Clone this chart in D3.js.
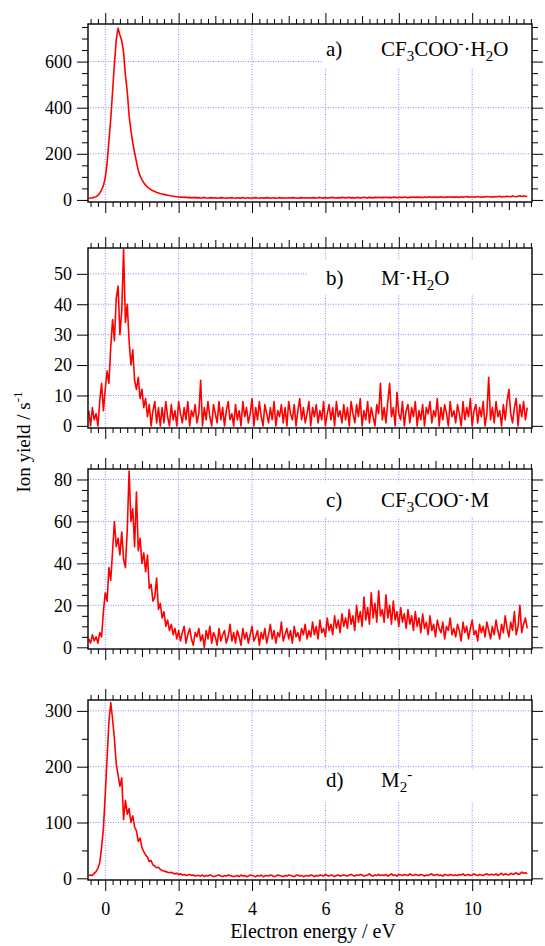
<!DOCTYPE html>
<html>
<head>
<meta charset="utf-8">
<script src="https://cdn.jsdelivr.net/npm/d3@7"></script>
<style>
  body { margin: 0; background: #fff; }
  svg { display: block; }
</style>
</head>
<body>
<svg id="chart"></svg>
<script>
// spectra sampled every 0.05 eV starting at -0.45 eV, one row = 1 eV
const energyStart = -0.45;
const energyStep = 0.05;

const yieldA = [
  6, 8, 9, 12, 14, 19, 30, 44, 62, 95, 160, 255, 350, 470, 590, 695, 745, 715, 690, 640,
  540, 470, 365, 300, 248, 205, 165, 128, 104, 88, 74, 64, 56, 49, 44, 40, 37, 32, 30, 27,
  26, 24, 22, 20, 19, 17, 16, 15, 14, 13, 12, 13, 11, 12, 10, 11, 9, 10, 11, 9,
  10, 8, 9, 11, 8, 7, 9, 10, 8, 9, 7, 8, 10, 9, 8, 7, 9, 8, 10, 8,
  7, 9, 8, 8, 10, 7, 8, 9, 7, 8, 9, 10, 8, 7, 9, 8, 8, 10, 9, 7,
  8, 9, 7, 8, 10, 8, 9, 7, 8, 9, 8, 10, 9, 8, 7, 9, 10, 8, 9, 8,
  9, 8, 10, 9, 8, 9, 11, 8, 9, 10, 8, 9, 10, 11, 9, 8, 10, 9, 11, 10,
  9, 10, 11, 9, 10, 8, 11, 10, 9, 10, 12, 10, 9, 11, 10, 9, 11, 10, 12, 10,
  11, 10, 12, 10, 11, 9, 12, 11, 10, 12, 11, 10, 13, 11, 10, 12, 11, 13, 11, 12,
  11, 12, 10, 13, 11, 12, 14, 11, 12, 13, 11, 12, 14, 12, 11, 13, 12, 14, 12, 13,
  12, 13, 11, 14, 12, 13, 15, 12, 13, 14, 12, 13, 15, 13, 12, 14, 13, 15, 14, 13,
  14, 13, 15, 14, 16, 13, 15, 14, 16, 15, 14, 17, 15, 14, 16, 18, 15, 17, 16, 15
];

const yieldB = [
  5, 0, 6, 2, 4, 0, 8, 14, 5, 12, 18, 14, 26, 35, 28, 42, 46, 30, 38, 58,
  34, 40, 28, 20, 25, 15, 12, 16, 9, 12, 6, 9, 3, 7, 0, 5, 8, 1, 6, 0,
  6, 1, 8, 3, 0, 7, 2, 5, 0, 8, 4, 1, 6, 2, 8, 0, 5, 3, 7, 1,
  4, 15, 0, 6, 2, 8, 3, 0, 7, 4, 1, 8, 2, 6, 0, 5, 8, 2, 4, 0,
  7, 2, 5, 0, 8, 3, 6, 1, 4, 9, 0, 6, 2, 8, 3, 0, 7, 4, 1, 6,
  2, 8, 0, 5, 3, 7, 1, 6, 0, 8, 4, 2, 7, 0, 5, 9, 2, 6, 1, 4,
  8, 0, 6, 3, 7, 1, 5, 2, 8, 0, 4, 7, 2, 6, 0, 8, 3, 5, 1, 7,
  2, 6, 0, 8, 4, 1, 7, 3, 9, 0, 5, 2, 8, 1, 6, 3, 0, 7, 4, 14,
  2, 6, 1, 8, 14, 3, 6, 0, 11, 4, 2, 8, 0, 5, 7, 1, 6, 3, 8, 0,
  5, 2, 7, 0, 6, 4, 8, 1, 5, 3, 9, 0, 6, 2, 7, 4, 0, 8, 3, 5,
  1, 7, 4, 0, 8, 2, 6, 3, 9, 0, 5, 7, 1, 6, 3, 8, 0, 4, 16, 2,
  6, 1, 8, 3, 5, 0, 7, 2, 8, 12, 4, 1, 6, 9, 0, 7, 3, 8, 2, 6
];

const yieldC = [
  4, 2, 6, 3, 5, 2, 7, 5, 17, 26, 22, 38, 32, 46, 60, 48, 52, 44, 55, 42,
  38, 56, 84, 60, 66, 48, 74, 46, 52, 40, 45, 36, 44, 28, 30, 22, 24, 33, 18, 21,
  14, 17, 10, 13, 8, 11, 6, 9, 4, 8, 3, 7, 10, 2, 6, 9, 4, 1, 7, 5,
  9, 3, 6, 0, 8, 4, 10, 2, 7, 5, 1, 9, 3, 6, 8, 2, 5, 11, 3, 7,
  2, 8, 5, 1, 9, 4, 7, 2, 6, 10, 3, 5, 8, 1, 7, 4, 9, 2, 6, 11,
  4, 8, 2, 7, 5, 12, 3, 6, 9, 4, 8, 2, 10, 5, 7, 3, 9, 6, 11, 4,
  8, 5, 12, 6, 10, 4, 13, 7, 9, 5, 14, 8, 11, 6, 15, 9, 13, 7, 16, 10,
  14, 9, 18, 11, 15, 8, 20, 12, 17, 10, 24, 13, 19, 11, 26, 14, 21, 12, 27, 15,
  18, 12, 25, 14, 20, 11, 22, 13, 17, 10, 19, 12, 16, 9, 18, 11, 15, 8, 17, 10,
  14, 7, 16, 9, 12, 6, 15, 8, 11, 5, 13, 9, 7, 12, 4, 10, 8, 14, 6, 9,
  5, 11, 8, 3, 12, 7, 10, 4, 9, 13, 6, 8, 3, 11, 7, 10, 5, 12, 8, 4,
  10, 6, 13, 8, 4, 11, 7, 15, 9, 5, 12, 8, 17, 6, 10, 20, 7, 11, 14, 9
];

const yieldD = [
  5, 6, 5, 9, 12, 18, 28, 55, 90, 150, 215, 280, 315, 285, 250, 205, 185, 165, 180, 105,
  140, 115, 125, 100, 112, 92, 85, 66, 72, 55, 48, 42, 38, 30, 32, 24, 22, 19, 20, 16,
  14, 13, 12, 11, 10, 11, 9, 8, 9, 7, 8, 6, 7, 5, 6, 7, 5, 6, 4, 5,
  5, 4, 6, 3, 5, 4, 6, 5, 3, 4, 5, 6, 4, 3, 5, 4, 6, 5, 4, 3,
  4, 5, 3, 6, 4, 5, 3, 4, 6, 5, 4, 3, 5, 4, 6, 3, 4, 5, 4, 6,
  5, 3, 4, 6, 5, 4, 3, 5, 4, 6, 5, 4, 3, 5, 6, 4, 5, 3, 4, 5,
  4, 6, 5, 3, 5, 4, 6, 5, 4, 7, 5, 4, 6, 5, 3, 5, 6, 4, 5, 6,
  5, 4, 6, 7, 5, 4, 6, 5, 7, 6, 4, 5, 6, 8, 5, 4, 6, 5, 7, 5,
  6, 5, 7, 4, 6, 8, 5, 6, 4, 7, 6, 5, 7, 6, 5, 8, 6, 5, 7, 6,
  5, 7, 6, 4, 6, 5, 7, 8, 5, 6, 7, 5, 6, 4, 7, 6, 5, 7, 6, 5,
  6, 5, 7, 6, 8, 5, 6, 7, 5, 6, 8, 6, 5, 7, 6, 5, 7, 8, 6, 7,
  7, 6, 8, 5, 7, 9, 6, 8, 7, 6, 9, 7, 8, 10, 7, 8, 11, 9, 10, 8
];

const xMajorTicks = [0, 2, 4, 6, 8, 10];
const xMidTicks = [1, 3, 5, 7, 9, 11];
const yTicksA = [0, 200, 400, 600];
const yTicksB = [0, 10, 20, 30, 40, 50];
const yTicksC = [0, 20, 40, 60, 80];
const yTicksD = [0, 100, 200, 300];

// label pieces: [text, kind]
const speciesA = [["CF"], ["3", "sub"], ["COO"], ["-", "sup"], ["\u00B7H"], ["2", "sub"], ["O"]];
const speciesB = [["M"], ["-", "sup"], ["\u00B7H"], ["2", "sub"], ["O"]];
const speciesC = [["CF"], ["3", "sub"], ["COO"], ["-", "sup"], ["\u00B7M"]];
const speciesD = [["M"], ["2", "sub"], ["-", "sup"]];

const xTitle = "Electron energy / eV";
const yTitle = "Ion yield / s";

const W = 545, H = 946;
const left = 88, right = 532;
const font = "'Liberation Serif', 'Times New Roman', serif";

const panels = [
  { values: yieldA, top: 24, bottom: 202, yDomain: [-9, 763], major: yTicksA, minorStep: 50,
    tag: "a)", species: speciesA, labelY: 56, box: [323, 26, 207, 43] },
  { values: yieldB, top: 248, bottom: 428, yDomain: [-0.7, 58.5], major: yTicksB, minorStep: 0,
    tag: "b)", species: speciesB, labelY: 285, box: [307, 260, 223, 35] },
  { values: yieldC, top: 469, bottom: 649, yDomain: [-0.8, 85], major: yTicksC, minorStep: 5,
    tag: "c)", species: speciesC, labelY: 507, box: [307, 482, 223, 35] },
  { values: yieldD, top: 700, bottom: 880, yDomain: [-3, 319.5], major: yTicksD, minorStep: 50,
    tag: "d)", species: speciesD, labelY: 787, box: [307, 770, 223, 32] }
];

const svg = d3.select("#chart").attr("width", W).attr("height", H)
  .style("font-family", font);

const x = d3.scaleLinear().domain([-0.47, 11.63]).range([left, right]);
const xMinor = d3.range(-0.4, 11.61, 0.2).map(v => +v.toFixed(2));

function styleAxis(g, size) {
  g.select(".domain").remove();
  g.selectAll("line").attr("stroke", "#000").attr("stroke-width", 1);
  g.selectAll("text").attr("font-family", font).attr("font-size", size).attr("fill", "#000");
}

panels.forEach((p, i) => {
  const y = d3.scaleLinear().domain(p.yDomain).range([p.bottom, p.top]);
  const g = svg.append("g");

  const clipId = "clip" + i;
  svg.append("clipPath").attr("id", clipId).append("rect")
    .attr("x", left).attr("y", p.top).attr("width", right - left).attr("height", p.bottom - p.top);

  // grid
  g.append("g").selectAll("line").data(xMajorTicks).join("line")
    .attr("x1", d => x(d)).attr("x2", d => x(d))
    .attr("y1", p.top).attr("y2", p.bottom)
    .attr("stroke", "#8a8aff").attr("stroke-width", 1).attr("stroke-dasharray", "1,1.5");
  g.append("g").selectAll("line").data(p.major.filter(d => d > 0)).join("line")
    .attr("x1", left).attr("x2", right)
    .attr("y1", d => y(d)).attr("y2", d => y(d))
    .attr("stroke", "#8a8aff").attr("stroke-width", 1).attr("stroke-dasharray", "1,1.5");

  // label background + text
  g.append("rect").attr("x", p.box[0]).attr("y", p.box[1])
    .attr("width", p.box[2]).attr("height", p.box[3]).attr("fill", "#fff");
  g.append("text").attr("x", 326).attr("y", p.labelY).attr("font-size", 21).text(p.tag);
  const lab = g.append("text").attr("x", 381).attr("y", p.labelY).attr("font-size", 21);
  let shift = 0;
  p.species.forEach(([t, kind]) => {
    let target = 0, size = null;
    if (kind === "sub") { target = 5; size = 15; }
    if (kind === "sup") { target = -8; size = 15; }
    const ts = lab.append("tspan").attr("dy", target - shift).text(t);
    if (size) ts.attr("font-size", size);
    shift = target;
  });

  // trace
  const line = d3.line()
    .x((d, j) => x(energyStart + j * energyStep))
    .y(d => y(d));
  g.append("path").datum(p.values)
    .attr("clip-path", `url(#${clipId})`)
    .attr("fill", "none").attr("stroke", "#ff0000").attr("stroke-width", 1.6)
    .attr("stroke-linejoin", "round")
    .attr("d", line);

  // frame
  g.append("rect").attr("x", left).attr("y", p.top)
    .attr("width", right - left).attr("height", p.bottom - p.top)
    .attr("fill", "none").attr("stroke", "#000").attr("stroke-width", 1.4);

  // y axes
  const yMinor = p.minorStep ? d3.range(0, p.yDomain[1], p.minorStep).filter(v => !p.major.includes(v)) : [];
  g.append("g").attr("transform", `translate(${left},0)`)
    .call(d3.axisLeft(y).tickValues(p.major).tickSize(11).tickPadding(5))
    .call(s => styleAxis(s, 18));
  g.append("g").attr("transform", `translate(${left},0)`)
    .call(d3.axisLeft(y).tickValues(yMinor).tickSize(6).tickFormat(""))
    .call(s => styleAxis(s, 18));
  g.append("g").attr("transform", `translate(${right},0)`)
    .call(d3.axisRight(y).tickValues(p.major).tickSize(11).tickFormat(""))
    .call(s => styleAxis(s, 18));
  g.append("g").attr("transform", `translate(${right},0)`)
    .call(d3.axisRight(y).tickValues(yMinor).tickSize(6).tickFormat(""))
    .call(s => styleAxis(s, 18));

  // x axes, top and bottom
  const minorOnly = xMinor.filter(v => !xMajorTicks.includes(v) && !xMidTicks.includes(v));
  [["top", p.top, d3.axisTop], ["bottom", p.bottom, d3.axisBottom]].forEach(([side, yy, ax]) => {
    g.append("g").attr("transform", `translate(0,${yy})`)
      .call(ax(x).tickValues(minorOnly).tickSize(5).tickFormat(""))
      .call(s => styleAxis(s, 18));
    g.append("g").attr("transform", `translate(0,${yy})`)
      .call(ax(x).tickValues(xMidTicks).tickSize(8).tickFormat(""))
      .call(s => styleAxis(s, 18));
    const showLabels = side === "bottom" && i === panels.length - 1;
    const major = ax(x).tickValues(xMajorTicks).tickSize(11).tickPadding(11);
    if (!showLabels) major.tickFormat("");
    g.append("g").attr("transform", `translate(0,${yy})`)
      .call(major)
      .call(s => styleAxis(s, 18));
  });
});

// axis titles
svg.append("text").attr("x", 313).attr("y", 938).attr("text-anchor", "middle")
  .attr("font-size", 20).text(xTitle);
const yt = svg.append("text").attr("transform", "translate(30,442) rotate(-90)")
  .attr("text-anchor", "middle").attr("font-size", 19);
yt.append("tspan").text(yTitle);
yt.append("tspan").attr("dy", -8).attr("font-size", 13).text("-1");
</script>
</body>
</html>
